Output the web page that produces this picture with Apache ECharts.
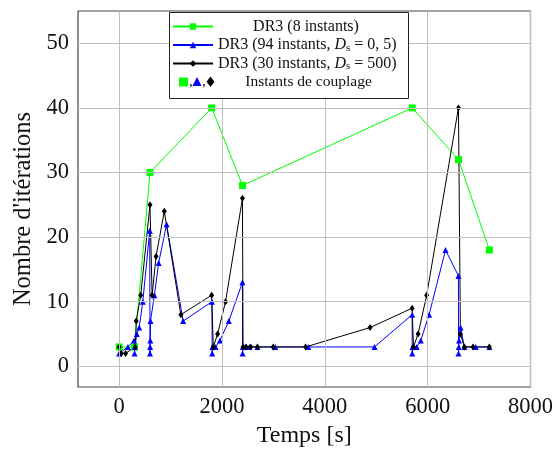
<!DOCTYPE html>
<html>
<head>
<meta charset="utf-8">
<script src="https://cdn.jsdelivr.net/npm/echarts@6/dist/echarts.min.js"></script>
<style>html,body{margin:0;padding:0;background:#fff}#c{width:556px;height:453px}</style>
</head>
<body>
<div id="c"></div>
<script>
// ---- data ----
const xTicks = [0, 2000, 4000, 6000, 8000];
const yTicks = [0, 10, 20, 30, 40, 50];

const greenX = [0, 300, 600, 1800, 2400, 5700, 6600, 7200];
const greenY = [3, 3, 30, 40, 28, 40, 32, 18];

const blueX = [0, 170, 290, 300, 305, 344, 390, 460, 595, 600, 603, 606, 610, 685, 768, 923, 1245, 1805, 1810, 1815, 1876, 1960, 2133, 2398, 2400, 2405, 2450, 2530, 2690, 3035, 3678, 4966, 5699, 5700, 5705, 5788, 5866, 6028, 6348, 6599, 6600, 6605, 6610, 6640, 6714, 6935, 7200];
const blueY = [2, 3, 4, 2, 3, 5, 6, 10, 21, 2, 3, 4, 7, 11, 16, 22, 7, 10, 2, 3, 3, 4, 7, 13, 2, 3, 3, 3, 3, 3, 3, 3, 8, 2, 3, 3, 4, 8, 18, 14, 2, 3, 4, 6, 3, 3, 3];

const blackX = [0, 40, 125, 313, 332, 420, 600, 641, 718, 878, 1200, 1799, 1831, 1915, 2069, 2398, 2410, 2470, 2560, 2690, 2996, 3626, 4880, 5699, 5724, 5814, 5981, 6599, 6637, 6714, 6882, 7200];
const blackY = [3, 2, 2, 3, 7, 11, 25, 11, 17, 24, 8, 11, 3, 5, 10, 26, 3, 3, 3, 3, 3, 3, 6, 9, 3, 5, 11, 40, 5, 3, 3, 3];

const names = ['DR3 (8 instants)', 'DR3 (94 instants, Ds = 0, 5)', 'DR3 (30 instants, Ds = 500)'];

const zip = (a, b) => a.map((v, i) => [v, b[i]]);
const FONT = 'Liberation Serif';
const XMIN = -800, XMAX = 8000, YMIN = -3.2, YMAX = 55;

const chart = echarts.init(document.getElementById('c'), null, {renderer: 'canvas'});

const tick = (vals) => ({show: true, inside: true, length: 5, customValues: vals, lineStyle: {color: '#444', width: 1}});
const lbl = (vals, show) => ({show: show, customValues: vals, fontFamily: FONT, fontSize: 22.5, color: '#111', margin: 9, formatter: v => String(v)});

const gridLines = [
  ...xTicks.map(v => ({xAxis: v})),
  ...yTicks.map(v => ({yAxis: v}))
];

chart.setOption({
  animation: false,
  backgroundColor: '#fff',
  grid: {left: 78, right: 22, top: 11, bottom: 64, show: true, borderColor: '#444', borderWidth: 1.2, backgroundColor: 'transparent'},
  xAxis: [{
    type: 'value', min: XMIN, max: XMAX, position: 'bottom',
    axisLine: {show: false}, splitLine: {show: false},
    axisTick: tick(xTicks), axisLabel: lbl(xTicks, true),
    name: 'Temps [s]', nameLocation: 'middle', nameGap: 37,
    nameTextStyle: {fontFamily: FONT, fontSize: 24, color: '#111'}
  }, {
    type: 'value', min: XMIN, max: XMAX, position: 'top',
    axisLine: {show: false}, splitLine: {show: false},
    axisTick: tick(xTicks), axisLabel: lbl(xTicks, false)
  }],
  yAxis: [{
    type: 'value', min: YMIN, max: YMAX, position: 'left',
    axisLine: {show: false}, splitLine: {show: false},
    axisTick: tick(yTicks), axisLabel: lbl(yTicks, true),
    name: "Nombre d'itérations", nameLocation: 'middle', nameGap: 38,
    nameTextStyle: {fontFamily: FONT, fontSize: 24.5, color: '#111', padding: [0, 20, 0, 0]}
  }, {
    type: 'value', min: YMIN, max: YMAX, position: 'right',
    axisLine: {show: false}, splitLine: {show: false},
    axisTick: tick(yTicks), axisLabel: lbl(yTicks, false)
  }],
  legend: {
    orient: 'vertical', left: 172, top: 18, itemWidth: 40, itemHeight: 8, itemGap: 1.5, padding: 0, z: 20,
    data: names,
    textStyle: {
      fontFamily: FONT, fontSize: 16, color: '#111', lineHeight: 17,
      rich: {
        c: {fontFamily: FONT, fontSize: 16, width: 176, align: 'center', lineHeight: 17},
        t: {fontFamily: FONT, fontSize: 16, lineHeight: 17},
        i: {fontFamily: FONT, fontSize: 16, fontStyle: 'italic', lineHeight: 17},
        s: {fontFamily: FONT, fontSize: 11, lineHeight: 17, verticalAlign: 'bottom', padding: [6, 0, 0, 0]}
      }
    },
    formatter: function (n) {
      if (n === names[0]) return '{c|' + n + '}';
      const m = n.match(/^(DR3 \(\d+ instants, )Ds( = .*\))$/);
      return '{t|' + m[1] + '}{i|D}{s|s}{t|' + m[2] + '}';
    }
  },
  graphic: [
    {type: 'rect', shape: {x: 169.5, y: 12.5, width: 239, height: 86}, style: {fill: '#fff', stroke: '#222', lineWidth: 1}, z: 10},
    {type: 'rect', shape: {x: 179, y: 77.5, width: 9, height: 9}, style: {fill: '#00ff00'}, z: 100},
    {type: 'text', x: 189, y: 75, style: {text: ',', fontFamily: FONT, fontSize: 15, fill: '#111'}, z: 100},
    {type: 'polygon', shape: {points: [[197, 77], [192.5, 86], [201.5, 86]]}, style: {fill: '#0000ff'}, z: 100},
    {type: 'text', x: 202, y: 75, style: {text: ',', fontFamily: FONT, fontSize: 15, fill: '#111'}, z: 100},
    {type: 'polygon', shape: {points: [[210.5, 76.5], [214.5, 81.7], [210.5, 87], [206.5, 81.7]]}, style: {fill: '#000'}, z: 100},
    {type: 'text', x: 308.5, y: 81.7, style: {text: 'Instants de couplage', fontFamily: FONT, fontSize: 15.5, fill: '#111', align: 'center', verticalAlign: 'middle'}, z: 100}
  ],
  series: [
    {type: 'line', data: [], silent: true, z: 0,
     markLine: {silent: true, symbol: 'none', label: {show: false}, animation: false,
       lineStyle: {color: '#c0c0c0', width: 1, type: 'solid'}, data: gridLines}},
    {name: names[0], type: 'line', data: zip(greenX, greenY), symbol: 'rect', symbolSize: 7,
     lineStyle: {color: '#00ff00', width: 1}, itemStyle: {color: '#00ff00'}},
    {name: names[1], type: 'line', data: zip(blueX, blueY), symbol: 'triangle', symbolSize: 6,
     lineStyle: {color: '#0000ff', width: 1}, itemStyle: {color: '#0000ff'}},
    {name: names[2], type: 'line', data: zip(blackX, blackY), symbol: 'diamond', symbolSize: [5, 7],
     lineStyle: {color: '#000', width: 1}, itemStyle: {color: '#000'}}
  ]
});
</script>
</body>
</html>
